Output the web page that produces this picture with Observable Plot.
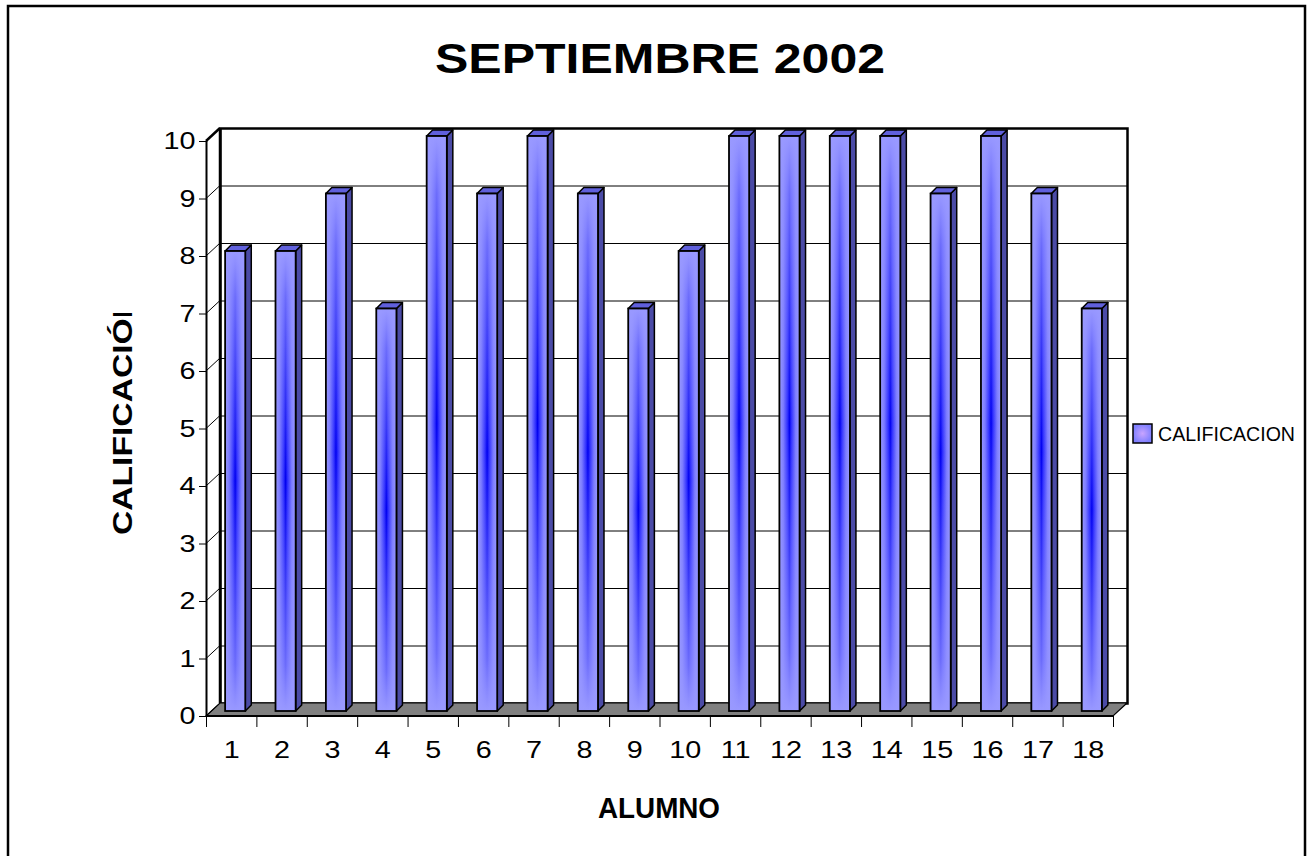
<!DOCTYPE html>
<html>
<head>
<meta charset="utf-8">
<script src="https://cdn.jsdelivr.net/npm/d3@7"></script>
<script src="https://cdn.jsdelivr.net/npm/@observablehq/plot@0.6"></script>
<style>
  body { margin: 0; background: #fff; }
  #chart { position: relative; width: 1309px; height: 856px; overflow: hidden; }
</style>
</head>
<body>
<div id="chart"></div>
<script>
// ---- data ----
const alumnos = [1, 2, 3, 4, 5, 6, 7, 8, 9, 10, 11, 12, 13, 14, 15, 16, 17, 18];
const calificaciones = [8, 8, 9, 7, 10, 9, 10, 9, 7, 8, 10, 10, 10, 10, 9, 10, 9, 7];
const yTicks = [0, 1, 2, 3, 4, 5, 6, 7, 8, 9, 10];
const xBoundaries = [0.5, 1.5, 2.5, 3.5, 4.5, 5.5, 6.5, 7.5, 8.5, 9.5, 10.5, 11.5, 12.5, 13.5, 14.5, 15.5, 16.5, 17.5, 18.5];
const titleText = "SEPTIEMBRE 2002";
const xLabelText = "ALUMNO";
const yLabelText = "CALIFICACIÓN";
const seriesName = "CALIFICACION";

const data = alumnos.map((a, i) => ({alumno: a, calificacion: calificaciones[i]}));

// 3D depth (pixels)
const DX = 14, DY = -13;   // wall depth
const BX = 6, BY = -6;     // bar depth
const FX = 4, FY = -5;     // bar front plane offset

function walls(index, scales) {
  const x = scales.x, y = scales.y;
  const g = d3.create("svg:g");
  const x0 = x(0.5), x1 = x(18.5), y0 = y(0), yT = y(10);
  g.append("polygon")
    .attr("points", [[x0, y0], [x1, y0], [x1 + DX, y0 + DY], [x0 + DX, y0 + DY]].join(" "))
    .attr("fill", "#808080").attr("stroke", "#000").attr("stroke-width", 1.2);
  g.append("line").attr("x1", x0).attr("x2", x1).attr("y1", y0).attr("y2", y0)
    .attr("stroke", "#000").attr("stroke-width", 2.2);
  for (const t of yTicks) {
    g.append("line")
      .attr("x1", x0).attr("y1", y(t)).attr("x2", x0 + DX).attr("y2", y(t) + DY)
      .attr("stroke", "#000").attr("stroke-width", t === 10 ? 2.5 : 1);
  }
  g.append("line").attr("x1", x0 + DX).attr("x2", x0 + DX).attr("y1", yT + DY).attr("y2", y0 + DY)
    .attr("stroke", "#000").attr("stroke-width", 2.5);
  return g.node();
}

function bars(index, scales) {
  const x = scales.x, y = scales.y;
  const g = d3.create("svg:g");
  const defs = g.append("defs");
  const hg = defs.append("linearGradient").attr("id", "barH").attr("x1", 0).attr("x2", 1).attr("y1", 0).attr("y2", 0);
  [[0, "#9a9aff"], [0.2, "#7a7aff"], [0.4, "#3030ff"], [0.5, "#0000f0"], [0.6, "#3030ff"], [0.8, "#7a7aff"], [1, "#9a9aff"]]
    .forEach(([o, c]) => hg.append("stop").attr("offset", o).attr("stop-color", c));
  const vg = defs.append("linearGradient").attr("id", "barV").attr("x1", 0).attr("x2", 0).attr("y1", 0).attr("y2", 1);
  [[0, 1], [0.1, 0.7], [0.5, 0], [0.9, 0.7], [1, 1]]
    .forEach(([o, a]) => vg.append("stop").attr("offset", o).attr("stop-color", "#9999ff").attr("stop-opacity", a));
  const bw = (x(1.5) - x(0.5)) * 0.4;
  for (const d of data) {
    const l = x(d.alumno) + FX - bw / 2, r = l + bw;
    const t = y(d.calificacion) + FY, b = y(0) + FY;
    g.append("polygon")
      .attr("points", [[r, t], [r + BX, t + BY], [r + BX, b + BY], [r, b]].join(" "))
      .attr("fill", "#4b4ba6").attr("stroke", "#000").attr("stroke-width", 1.5).attr("stroke-linejoin", "round");
    g.append("polygon")
      .attr("points", [[l, t], [r, t], [r + BX, t + BY], [l + BX, t + BY]].join(" "))
      .attr("fill", "#6060dc").attr("stroke", "#000").attr("stroke-width", 1.5).attr("stroke-linejoin", "round");
    g.append("rect").attr("x", l).attr("y", t).attr("width", bw).attr("height", b - t).attr("fill", "url(#barH)");
    g.append("rect").attr("x", l).attr("y", t).attr("width", bw).attr("height", b - t).attr("fill", "url(#barV)");
    g.append("rect").attr("x", l).attr("y", t).attr("width", bw).attr("height", b - t)
      .attr("fill", "none").attr("stroke", "#000").attr("stroke-width", 1.8);
  }
  return g.node();
}

const chart = Plot.plot({
  width: 1309,
  height: 856,
  marginLeft: 206,
  marginRight: 196,
  marginTop: 141,
  marginBottom: 140,
  style: {fontFamily: "'Liberation Sans', Arial, sans-serif", background: "white", color: "black"},
  x: {type: "linear", domain: [0.5, 18.5]},
  y: {domain: [0, 10]},
  marks: [
    Plot.ruleY(yTicks.filter(t => t > 0 && t < 10), {dx: DX, dy: DY, stroke: "#000", strokeWidth: 1}),
    Plot.frame({dx: DX, dy: DY, stroke: "#000", strokeWidth: 2.5}),
    walls,
    bars,
    Plot.ruleX([0.5], {y1: 0, y2: 10, stroke: "#000", strokeWidth: 2}),
    Plot.axisY(yTicks, {tickSize: 7, tickPadding: 4, fontSize: 24, tickFormat: d => String(d), label: null}),
    Plot.axisX(xBoundaries, {tickSize: 11, tickFormat: () => "", label: null}),
    Plot.axisX(alumnos, {tickSize: 0, tickPadding: 24, fontSize: 24, tickFormat: d => String(d), label: null})
  ]
});

const svg = d3.select(chart);
svg.append("rect").attr("x", 8).attr("y", 6).attr("width", 1297).attr("height", 880)
  .attr("fill", "none").attr("stroke", "#000").attr("stroke-width", 2.5);
svg.append("text").attr("x", 660).attr("y", 73).attr("text-anchor", "middle")
  .attr("font-size", 42).attr("font-weight", "bold").attr("textLength", 450)
  .attr("lengthAdjust", "spacingAndGlyphs").attr("fill", "#000").text(titleText);
svg.append("text").attr("x", 659).attr("y", 818).attr("text-anchor", "middle")
  .attr("font-size", 29).attr("font-weight", "bold").attr("textLength", 122)
  .attr("lengthAdjust", "spacingAndGlyphs").attr("fill", "#000").text(xLabelText);
const defs = svg.append("defs");
defs.append("clipPath").attr("id", "ylabClip").append("rect")
  .attr("x", 90).attr("y", 313).attr("width", 60).attr("height", 300);
svg.append("g").attr("clip-path", "url(#ylabClip)")
  .append("text").attr("transform", "translate(132,535) rotate(-90)")
  .attr("text-anchor", "start")
  .attr("font-size", 27).attr("font-weight", "bold").attr("textLength", 241)
  .attr("lengthAdjust", "spacingAndGlyphs").attr("fill", "#000").text(yLabelText);
const lg = defs.append("radialGradient").attr("id", "legGrad");
lg.append("stop").attr("offset", 0).attr("stop-color", "#c8a4ff");
lg.append("stop").attr("offset", 1).attr("stop-color", "#8080ff");
svg.append("rect").attr("x", 1133).attr("y", 424).attr("width", 19).attr("height", 19)
  .attr("fill", "url(#legGrad)").attr("stroke", "#000").attr("stroke-width", 1.5);
svg.append("text").attr("x", 1158).attr("y", 441).attr("font-size", 20).attr("text-anchor", "start")
  .attr("textLength", 137).attr("lengthAdjust", "spacingAndGlyphs").attr("fill", "#000").text(seriesName);

document.getElementById("chart").appendChild(chart);

// widen tick labels slightly, like the original rendering
svg.selectAll('g[aria-label="y-axis tick label"] text, g[aria-label="x-axis tick label"] text').each(function() {
  const len = this.getComputedTextLength();
  if (len > 0) {
    this.setAttribute("textLength", (len * 1.2).toFixed(1));
    this.setAttribute("lengthAdjust", "spacingAndGlyphs");
  }
});
</script>
</body>
</html>
